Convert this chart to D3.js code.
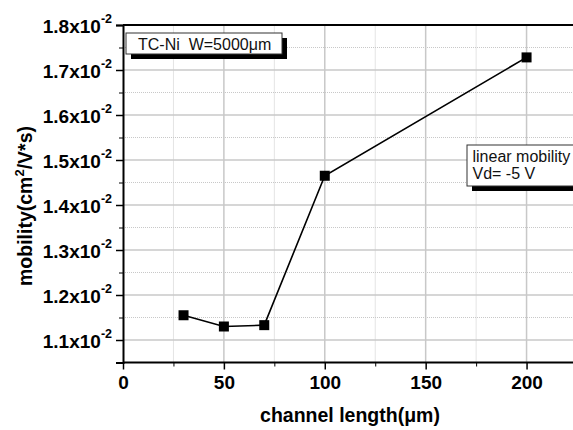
<!DOCTYPE html>
<html>
<head>
<meta charset="utf-8">
<script src="https://cdn.jsdelivr.net/npm/d3@7"></script>
<style>
  body { margin: 0; background: #fff; }
  svg { display: block; font-family: "Liberation Sans", Arial, sans-serif; }
</style>
</head>
<body>
<div id="chart"></div>
<script>
// channel length (um) vs linear mobility (x10^-2 cm2/V*s)
var lengths = [30, 50, 70, 100, 200];
var mobility = [1.155, 1.130, 1.133, 1.465, 1.728];

var xMajor = [0, 50, 100, 150, 200];
var xMinor = [25, 75, 125, 175];
var yMajor = [1.1, 1.2, 1.3, 1.4, 1.5, 1.6, 1.7, 1.8];
var yMinor = [1.05, 1.15, 1.25, 1.35, 1.45, 1.55, 1.65, 1.75];

var width = 573, height = 430;

var svg = d3.select("#chart")
  .append("svg")
  .attr("width", width)
  .attr("height", height);

var x = d3.scaleLinear().domain([0, 225]).range([123, 577]);
var y = d3.scaleLinear().domain([1.05, 1.8]).range([362.5, 25]);

// grid - minor dotted first, major solid on top
var grid = svg.append("g");
grid.selectAll(".vmin").data(xMinor).enter().append("line")
  .attr("x1", d => x(d)).attr("x2", d => x(d))
  .attr("y1", y(1.05)).attr("y2", y(1.8))
  .attr("stroke", "#c8c8c8").attr("stroke-dasharray", "1,1");
grid.selectAll(".hmin").data(yMinor).enter().append("line")
  .attr("x1", x(0)).attr("x2", width)
  .attr("y1", d => y(d)).attr("y2", d => y(d))
  .attr("stroke", "#c8c8c8").attr("stroke-dasharray", "1,1");
grid.selectAll(".vmaj").data(xMajor.slice(1)).enter().append("line")
  .attr("x1", d => x(d)).attr("x2", d => x(d))
  .attr("y1", y(1.05)).attr("y2", y(1.8))
  .attr("stroke", "#c8c8c8").attr("stroke-width", 1.5);
grid.selectAll(".hmaj").data(yMajor.slice(0, -1)).enter().append("line")
  .attr("x1", x(0)).attr("x2", width)
  .attr("y1", d => y(d)).attr("y2", d => y(d))
  .attr("stroke", "#c8c8c8").attr("stroke-width", 1.5);

// top border
svg.append("line")
  .attr("x1", x(0)).attr("x2", width)
  .attr("y1", y(1.8)).attr("y2", y(1.8))
  .attr("stroke", "#000").attr("stroke-width", 2);

// axes
var xAxis = svg.append("g")
  .attr("transform", "translate(0," + y(1.05) + ")")
  .call(d3.axisBottom(x).tickValues(xMajor).tickSize(7).tickPadding(4).tickFormat(d3.format("d")));
svg.append("g")
  .attr("transform", "translate(0," + y(1.05) + ")")
  .call(d3.axisBottom(x).tickValues(xMinor).tickSize(4).tickFormat(""))
  .select(".domain").remove();
xAxis.select(".domain").attr("stroke-width", 2).attr("d", "M" + x(0) + ",0H" + width);
xAxis.selectAll(".tick line").attr("stroke-width", 1.5);
xAxis.selectAll("text")
  .attr("fill", "#000")
  .attr("dy", null).attr("y", 26.5)
  .attr("font-size", 19)
  .attr("font-weight", "bold")
  .attr("font-family", "Liberation Sans, Arial, sans-serif");

var yAxis = svg.append("g")
  .attr("transform", "translate(" + x(0) + ",0)")
  .call(d3.axisLeft(y).tickValues(yMajor).tickSize(7));
svg.append("g")
  .attr("transform", "translate(" + x(0) + ",0)")
  .call(d3.axisLeft(y).tickValues(yMinor).tickSize(4).tickFormat(""))
  .select(".domain").remove();
yAxis.select(".domain").attr("stroke-width", 2);
yAxis.selectAll(".tick line").attr("stroke-width", 1.5);
yAxis.selectAll(".tick text").each(function(d) {
  var t = d3.select(this).text("")
    .attr("x", -11).attr("dy", null).attr("y", 7)
    .attr("fill", "#000")
    .attr("font-size", 19)
    .attr("font-weight", "bold")
    .attr("font-family", "Liberation Sans, Arial, sans-serif");
  t.append("tspan").text(d3.format(".1f")(d) + "x10");
  t.append("tspan").attr("dy", -9.5).attr("font-size", 12.5).text("-2");
});

// line + markers
var line = d3.line()
  .x((d, i) => x(lengths[i]))
  .y(d => y(d));
svg.append("path")
  .datum(mobility)
  .attr("fill", "none")
  .attr("stroke", "#000")
  .attr("stroke-width", 1.6)
  .attr("d", line);
svg.selectAll(".pt").data(mobility).enter().append("rect")
  .attr("x", (d, i) => x(lengths[i]) - 5)
  .attr("y", d => y(d) - 5)
  .attr("width", 10).attr("height", 10)
  .attr("fill", "#000");

// axis titles
svg.append("text")
  .attr("x", 350).attr("y", 422)
  .attr("text-anchor", "middle")
  .attr("font-size", 19.5).attr("font-weight", "bold")
  .text("channel length(\u03bcm)");

var yt = svg.append("text")
  .attr("transform", "translate(32,206) rotate(-90)")
  .attr("text-anchor", "middle")
  .attr("font-size", 19.5).attr("font-weight", "bold");
yt.append("tspan").text("mobility(cm");
yt.append("tspan").attr("dy", -8).attr("font-size", 13).text("2");
yt.append("tspan").attr("dy", 8).text("/V*s)");

// legend boxes with drop shadow
function note(bx, by, bw, bh, lines, tx) {
  var g = svg.append("g");
  g.append("rect").attr("x", bx + 5).attr("y", by + 5).attr("width", bw).attr("height", bh).attr("fill", "#000");
  g.append("rect").attr("x", bx).attr("y", by).attr("width", bw).attr("height", bh)
    .attr("fill", "#fff").attr("stroke", "#333").attr("stroke-width", 1);
  lines.forEach(function(l, i) {
    g.append("text").attr("x", tx).attr("y", by + 16.5 + i * 17.6)
      .attr("font-size", 16).attr("fill", "#111")
      .attr("xml:space", "preserve")
      .text(l);
  });
}
note(126, 33, 156, 21, ["TC-Ni  W=5000\u03bcm"], 138);
note(467, 145, 120, 41, ["linear mobility", "Vd= -5 V"], 472.5);
</script>
</body>
</html>
